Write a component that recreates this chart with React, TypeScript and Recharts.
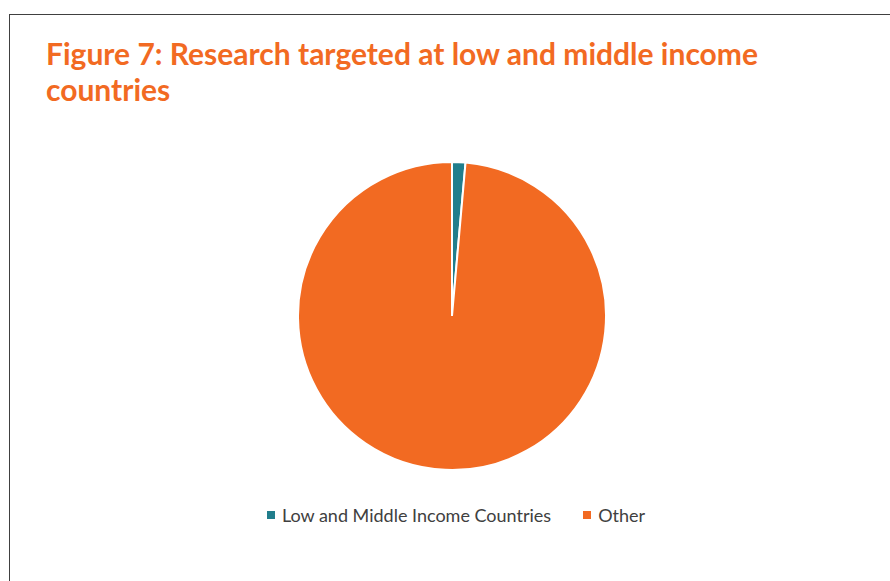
import { PieChart, Pie, Cell, Legend } from "recharts";

const categories = ["Low and Middle Income Countries", "Other"];
const shares = [1.4, 98.6];
const colors = ["#217E8C", "#F26A22"];

const data = categories.map((name, i) => ({ name, value: shares[i] }));

function LegendRow() {
  return (
    <div
      style={{
        display: "flex",
        justifyContent: "center",
        alignItems: "center",
        fontFamily: "Lato, sans-serif",
        fontSize: 18,
        color: "#404040",
        paddingLeft: 22,
      }}
    >
      {categories.map((c, i) => (
        <span
          key={c}
          style={{ display: "flex", alignItems: "center", marginRight: i === 0 ? 32 : 0 }}
        >
          <span
            style={{
              width: 8,
              height: 8,
              background: colors[i],
              display: "inline-block",
              marginRight: 7,
            }}
          />
          {c}
        </span>
      ))}
    </div>
  );
}

export default function App() {
  return (
    <div style={{ position: "absolute", left: 0, top: 0, width: 890, height: 581, background: "#fff", overflow: "hidden" }}>
      <div
        style={{
          position: "absolute",
          left: 9,
          top: 14,
          width: 900,
          height: 600,
          border: "1px solid #404040",
          boxSizing: "border-box",
        }}
      />
      <div
        style={{
          position: "absolute",
          left: 46,
          top: 35,
          width: 800,
          fontFamily: "Lato, sans-serif",
          fontWeight: 700,
          fontSize: 30,
          lineHeight: "36px",
          color: "#F26A22",
        }}
      >
        Figure 7: Research targeted at low and middle income
        <br />
        countries
      </div>
      <PieChart
        width={890}
        height={581}
        margin={{ top: 0, right: 0, bottom: 0, left: 0 }}
        style={{ position: "absolute", left: 0, top: 0 }}
      >
        <Pie
          data={data}
          dataKey="value"
          nameKey="name"
          cx={452}
          cy={316}
          outerRadius={154}
          startAngle={90}
          endAngle={-270}
          stroke="#ffffff"
          strokeWidth={2}
          isAnimationActive={false}
        >
          {data.map((d, i) => (
            <Cell key={d.name} fill={colors[i]} />
          ))}
        </Pie>
        <Legend
          content={<LegendRow />}
          wrapperStyle={{ position: "absolute", left: 0, top: 504, width: 890 }}
        />
      </PieChart>
    </div>
  );
}
